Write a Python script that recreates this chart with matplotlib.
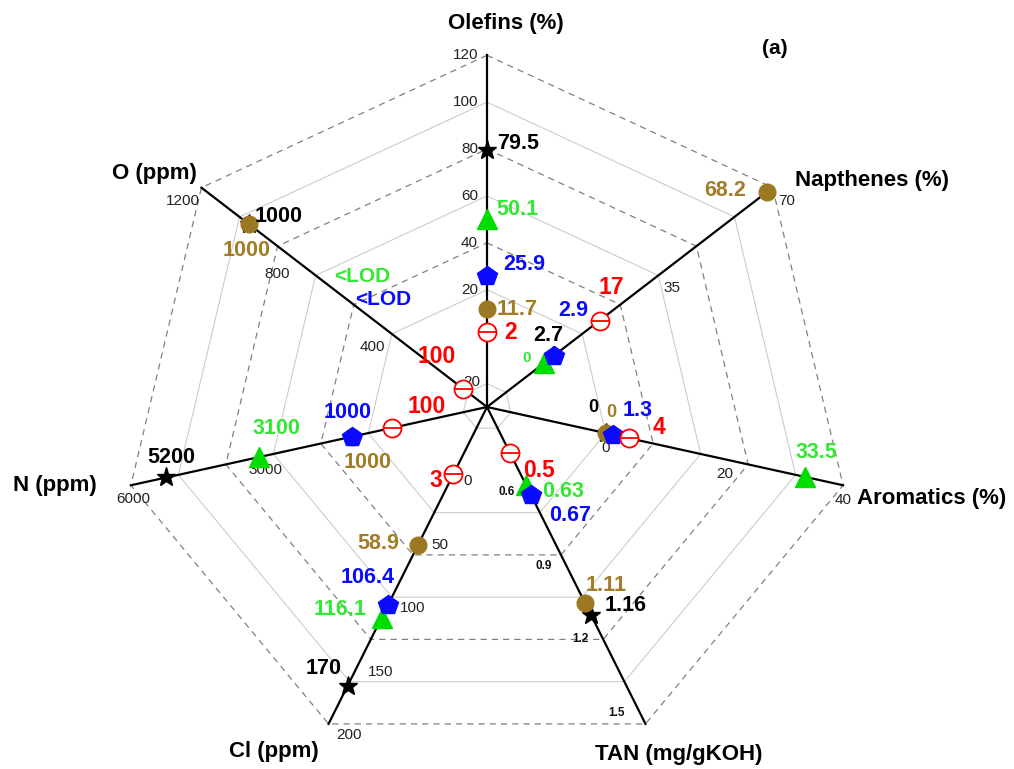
import numpy as np
import matplotlib.pyplot as plt

plt.rcParams['font.family'] = ['Liberation Sans', 'DejaVu Sans']

# spokes, clockwise from the top
spokes = ['Olefins (%)', 'Napthenes (%)', 'Aromatics (%)', 'TAN (mg/gKOH)',
          'Cl (ppm)', 'N (ppm)', 'O (ppm)']
spoke_lo = [0, 0, 0, 0.6, 0, 0, 0]
spoke_hi = [120, 70, 40, 1.5, 200, 6000, 1200]
spoke_ticks = [[20, 40, 60, 80, 100, 120], [35, 70], [0, 20, 40],
               [0.6, 0.9, 1.2, 1.5], [0, 50, 100, 150, 200], [3000, 6000],
               [400, 800, 1200]]

# one list per sample, same order as spokes (None = <LOD)
black_star = [79.5, 2.7, 0, 1.16, 170, 5200, 1000]
brown_dot = [11.7, 68.2, 0, 1.11, 58.9, 1000, 1000]
blue_pent = [25.9, 2.9, 1.3, 0.67, 106.4, 1000, None]
green_tri = [50.1, 0, 33.5, 0.63, 116.1, 3100, None]
red_circ = [2, 17, 4, 0.5, 3, 100, 100]

# radius (ring units, outer ring = 7.5) of the low / high end of each spoke
r_lo = [1.5, 1.5, 2.5, 1.68, 1.5, 1.9, 0.0]
r_hi = [7.5, 7.5, 7.5, 6.9, 7.5, 7.5, 7.5]
R = 7.5
rings = [0.5, 2.5, 3.5, 4.5, 5.5, 6.5, 7.5]

n = len(spokes)
ang = np.pi / 2 - np.arange(n) * 2 * np.pi / n


def to_xy(i, v):
    r = r_lo[i] + (v - spoke_lo[i]) / (spoke_hi[i] - spoke_lo[i]) * (r_hi[i] - r_lo[i])
    return r * np.cos(ang[i]), r * np.sin(ang[i])


fig = plt.figure(figsize=(10.14, 7.69), dpi=100)
ax = fig.add_axes([0, 0, 1, 1])
# 48.7 px per unit across, 46.9 px per unit up, centre at (487, 407) px
ax.set_xlim(-487 / 48.7, (1014 - 487) / 48.7)
ax.set_ylim(-(769 - 407) / 46.9, 407 / 46.9)
ax.axis('off')

# heptagon grid
closed = np.append(ang, ang[0])
for r in rings:
    if r in (3.5, 5.5, 7.5):
        ax.plot(r * np.cos(closed), r * np.sin(closed), color='#808080', lw=0.9,
                ls=(0, (5, 4)), zorder=1)
    else:
        ax.plot(r * np.cos(closed), r * np.sin(closed), color='#cccccc', lw=0.8, zorder=1)

# spokes
for a in ang:
    ax.plot([0, R * np.cos(a)], [0, R * np.sin(a)], color='black', lw=1.6, zorder=2)

# tick labels: (offset px, ha)
tick_place = [((-9, 0), 'right'), ((14, -13), 'center'), ((0, -15), 'center'),
              ((-16, -14), 'center'), ((8, -11), 'left'), ((2, -14), 'center'),
              ((-19, -13), 'center')]
for i in range(n):
    off, ha = tick_place[i]
    for t in spoke_ticks[i]:
        if i == 3:
            ax.annotate(f'{t:g}', to_xy(i, t), xytext=off, textcoords='offset pixels',
                        ha=ha, va='center', fontsize=8.5, fontweight='bold', color='#111111')
        else:
            ax.annotate(f'{t:g}', to_xy(i, t), xytext=off, textcoords='offset pixels',
                        ha=ha, va='center', fontsize=11, color='#222222')
ax.annotate('20', (0, 0), xytext=(-15, 25), textcoords='offset pixels',
            ha='center', va='center', fontsize=11, color='#222222')

# spoke titles
title_place = [((19, 32), 'center'), ((22, 7), 'left'), ((14, -13), 'left'),
               ((33, -31), 'center'), ((-55, -28), 'center'), ((-34, 0), 'right'),
               ((-47, 14), 'center')]
for i in range(n):
    off, ha = title_place[i]
    ax.annotate(spokes[i], (R * np.cos(ang[i]), R * np.sin(ang[i])), xytext=off,
                textcoords='offset pixels', ha=ha, va='center', fontsize=16,
                fontweight='bold')
ax.text(775 / 48.7 - 487 / 48.7, (407 - 48) / 46.9, '(a)', ha='center', va='center',
        fontsize=15, fontweight='bold')

series = [
    (black_star, dict(marker='*', ms=14, mfc='black', mec='black'), 'black',
     [(31, 7), (-5, 21), (-12, 26), (34, 10), (-24, 17), (5, 20), (30, 8)]),
    (brown_dot, dict(marker='o', ms=12, mfc='#9c7822', mec='#9c7822'), '#a27d25',
     [(30, 0), (-42, 2), (6, 21), (21, 17), (-40, 2), (15, -26), (-2, -26)]),
    (green_tri, dict(marker='^', ms=14, mfc='#00dd00', mec='#00dd00'), '#33e833',
     [(30, 10), (-17, 5), (12, 24), (37, -6), (-42, 8), (17, 29), (27, 14)]),
    (blue_pent, dict(marker='p', ms=15, mfc='#0a0aff', mec='#0a0aff'), '#0a0aff',
     [(37, 11), (20, 45), (24, 24), (39, -20), (-20, 28), (-5, 24), (48, -9)]),
    (red_circ, dict(marker='o', ms=13, mfc='white', mec='red', mew=1.3), 'red',
     [(24, -1), (12, 33), (30, 11), (29, -17), (-18, -6), (34, 21), (-27, 32)]),
]

lod_anchor = (4.0 * np.cos(ang[6]), 4.0 * np.sin(ang[6]))
for z, (vals, mk, tc, offs) in enumerate(series):
    for i, v in enumerate(vals):
        if v is None:
            ax.annotate('<LOD', lod_anchor, xytext=offs[i], textcoords='offset pixels',
                        ha='center', va='center', fontsize=15, fontweight='bold',
                        color=tc, zorder=10)
            continue
        x, y = to_xy(i, v)
        ax.plot([x], [y], ls='none', zorder=3 + z, **mk)
        if mk['mfc'] == 'white':
            ax.plot([x], [y], marker='_', ms=13, mew=1.3, color='red', zorder=3 + z)
        size = 16.5 if tc == 'red' else 15.5
        if v == 0:
            size = 11 if tc == '#33e833' else 13
        ax.annotate(f'{v:g}', (x, y), xytext=offs[i], textcoords='offset pixels',
                    ha='center', va='center', fontsize=size, fontweight='bold',
                    color=tc, zorder=10)

fig.savefig('out.png', dpi=100, facecolor='white')
